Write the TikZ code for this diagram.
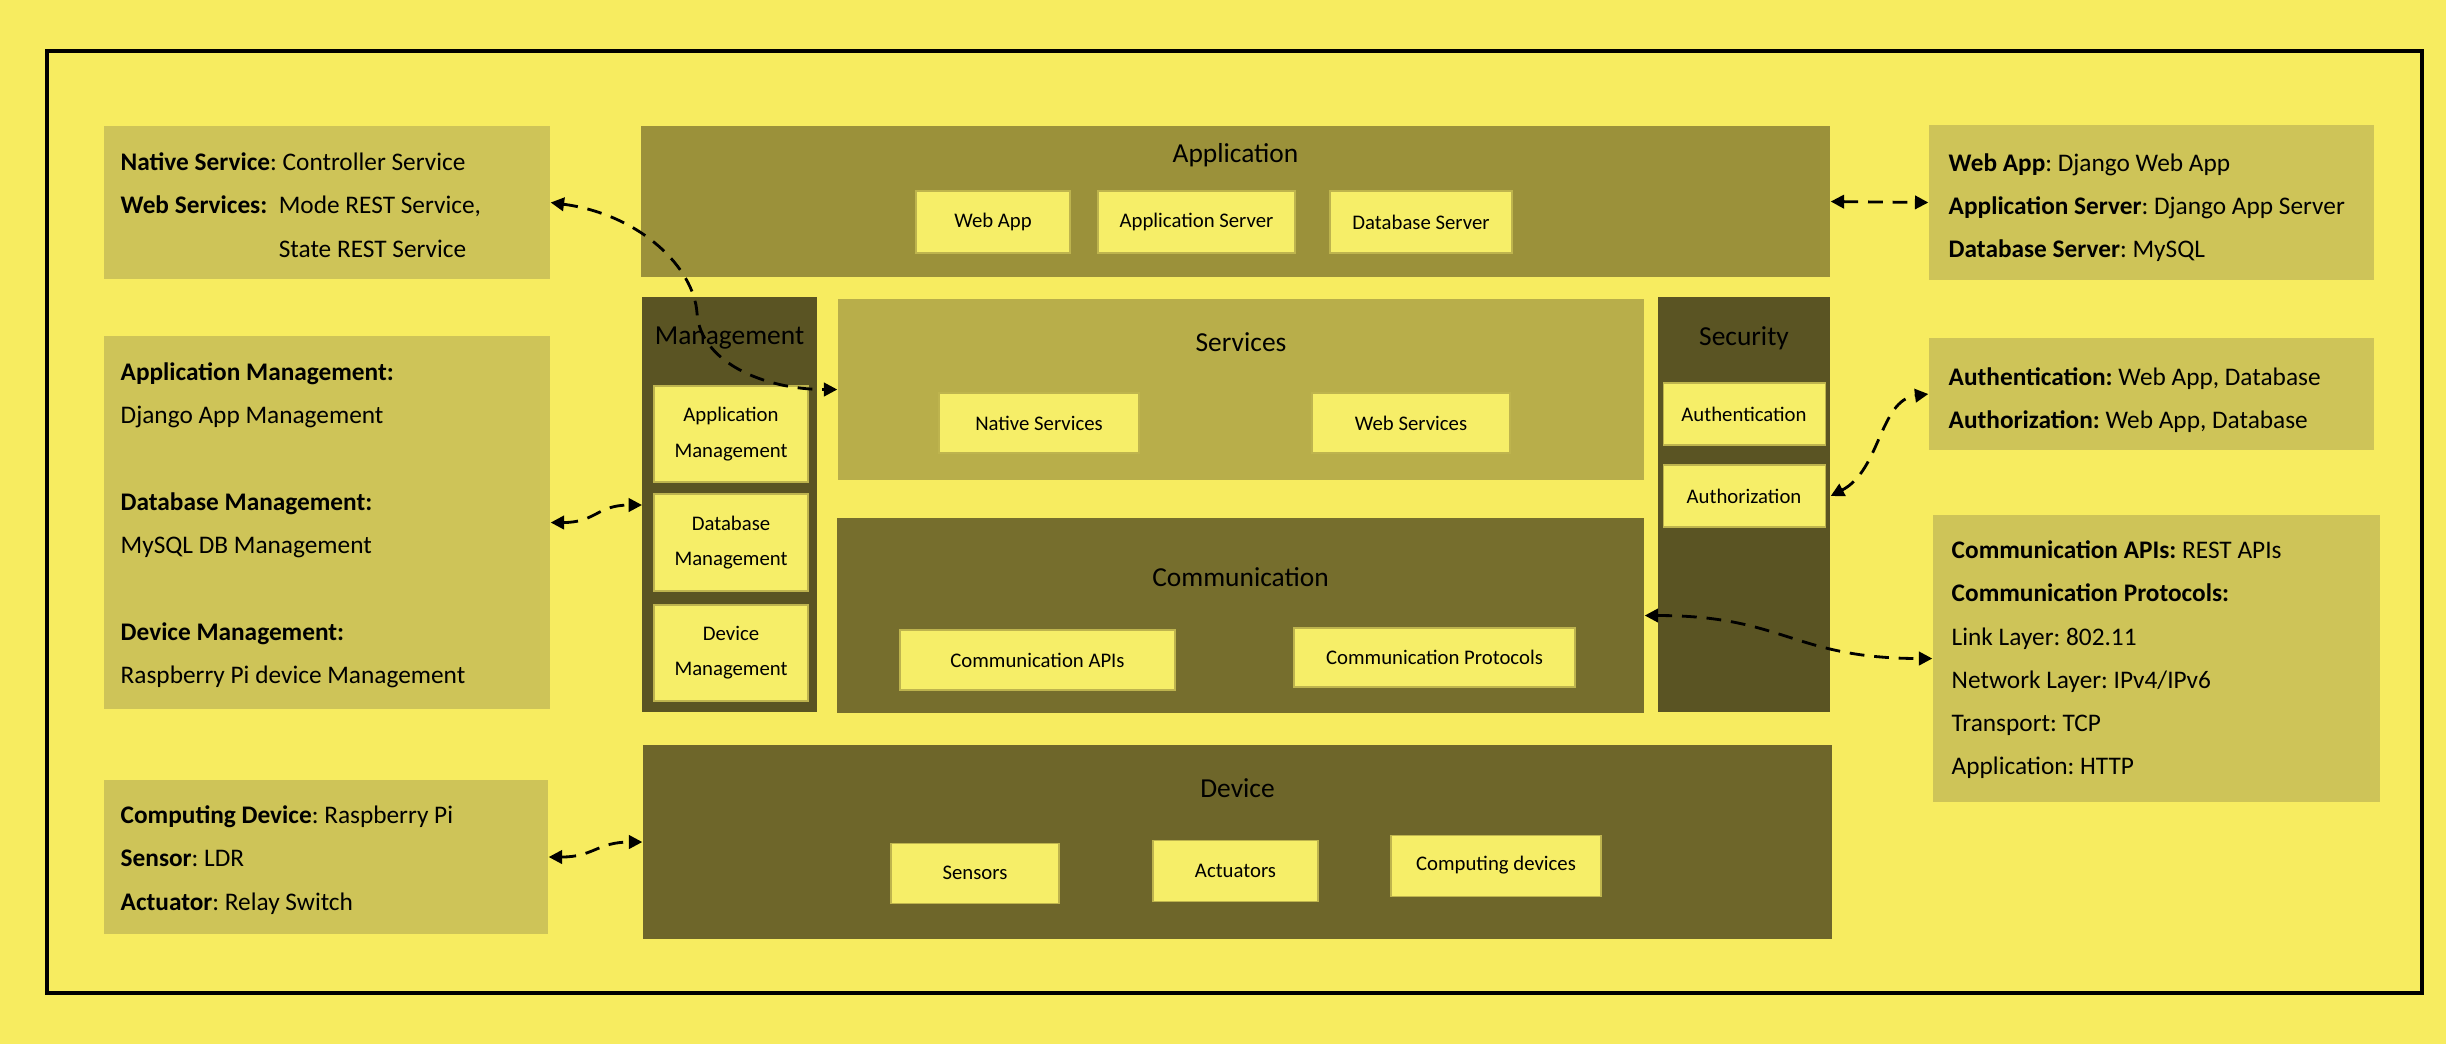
\documentclass[tikz,border=0pt]{standalone}
\usepackage{fontspec}
\setmainfont{Carlito}
\usetikzlibrary{arrows.meta}
\frenchspacing

\definecolor{pagebg}{RGB}{247,236,96}
\definecolor{infofill}{RGB}{206,196,88}
\definecolor{appfill}{RGB}{155,145,58}
\definecolor{servfill}{RGB}{184,174,74}
\definecolor{sidefill}{RGB}{90,84,35}
\definecolor{commfill}{RGB}{118,110,45}
\definecolor{devfill}{RGB}{110,102,42}
\definecolor{cellfill}{RGB}{246,238,104}
\definecolor{celledge}{RGB}{190,180,78}

\tikzset{
  box/.style args={#1/#2}{rectangle, draw=none, inner sep=0pt,
    minimum width=#1*0.01cm, minimum height=#2*0.01cm},
  infobox/.style={box=#1, fill=infofill},
  cell/.style={box=#1, fill=cellfill, draw=celledge, line width=0.3pt,
    font=\fontsize{5.9}{10}\selectfont, align=center},
  title/.style={inner sep=0pt, font=\fontsize{7.8}{9}\selectfont},
  info/.style={anchor=north west, inner sep=0pt, align=left,
    font=\fontsize{7.2}{12.3}\selectfont},
  conn/.style={draw=black, line width=0.8pt, dash pattern=on 4.2pt off 2.8pt,
    {Triangle[length=3.8pt,width=3.8pt]}-{Triangle[length=3.8pt,width=3.8pt]}},
}

\begin{document}
\begin{tikzpicture}[x=0.01cm,y=-0.01cm]
% page and frame
\fill[pagebg] (0,0) rectangle (2446,1044);
\useasboundingbox (0,0) rectangle (2446,1044);
\draw[line width=1.1pt] (47,51) rectangle (2422,993);

% ---- left description boxes ----
\node[infobox=446/153] (ns) at (327,202.5) {};
\node[info] (nstext) at (120,152)
  {\textbf{Native Service}: Controller Service\\
   \textbf{Web Services:}\ \ Mode REST Service,\\
   \phantom{\textbf{Web Services:}\ \ }State REST Service};

\node[infobox=446/373] (am) at (327,522.5) {};
\node[info] (amtext) at (120,362)
  {\textbf{Application Management:}\\
   Django App Management\\[12.3pt]
   \textbf{Database Management:}\\
   MySQL DB Management\\[12.3pt]
   \textbf{Device Management:}\\
   Raspberry Pi device Management};

\node[infobox=444/154] (cd) at (326,857) {};
\node[info] (cdtext) at (120,805)
  {\textbf{Computing Device}: Raspberry Pi\\
   \textbf{Sensor}: LDR\\
   \textbf{Actuator}: Relay Switch};

% ---- right description boxes ----
\node[infobox=445/155] (wa) at (2151.5,202.5) {};
\node[info] (watext) at (1948,153)
  {\textbf{Web App}: Django Web App\\
   \textbf{Application Server}: Django App Server\\
   \textbf{Database Server}: MySQL};

\node[infobox=445/112] (au) at (2151.5,394) {};
\node[info] (autext) at (1948,367)
  {\textbf{Authentication:} Web App, Database\\
   \textbf{Authorization:} Web App, Database};

\node[infobox=447/287] (cm) at (2156.5,658.5) {};
\node[info] (cmtext) at (1951,540)
  {\textbf{Communication APIs:} REST APIs\\
   \textbf{Communication Protocols:}\\
   Link Layer: 802.11\\
   Network Layer: IPv4/IPv6\\
   Transport: TCP\\
   Application: HTTP};

% ---- layered stack ----
% Application
\node[box=1189/151, fill=appfill] (app) at (1235.5,201.5) {};
\node[title] (apptitle) at (1235.5,155) {Application};
\node[cell=154/62] (webapp) at (993,222) {Web App};
\node[cell=197/62] (appserver) at (1196.5,222) {Application Server};
\node[cell=182/62] (dbserver) at (1421,222) {Database Server};

% Management column
\node[box=175/415, fill=sidefill] (mgmt) at (729.5,504.5) {};
\node[title] (mgmttitle) at (729.5,338) {Management};
\node[cell=154/96] (appmgmt) at (731,434) {Application\\Management};
\node[cell=154/97] (dbmgmt) at (731,542.5) {Database\\Management};
\node[cell=154/96] (devmgmt) at (731,653) {Device\\Management};

% Services
\node[box=806/181, fill=servfill] (serv) at (1241,389.5) {};
\node[title] (servtitle) at (1241,342) {Services};
\node[cell=200/60] (native) at (1039,423) {Native Services};
\node[cell=198/60] (websvc) at (1411,423) {Web Services};

% Security column
\node[box=172/415, fill=sidefill] (sec) at (1744,504.5) {};
\node[title] (sectitle) at (1744,338) {Security};
\node[cell=162/62] (authn) at (1744,414) {Authentication};
\node[cell=162/62] (authz) at (1744,496) {Authorization};

% Communication
\node[box=807/195, fill=commfill] (comm) at (1240.5,615.5) {};
\node[title] (commtitle) at (1240.5,577) {Communication};
\node[cell=275/60] (commapi) at (1037.5,660) {Communication APIs};
\node[cell=281/59] (commproto) at (1434.5,657.5) {Communication Protocols};

% Device
\node[box=1189/194, fill=devfill] (dev) at (1237.5,842) {};
\node[title] (devtitle) at (1237.5,788) {Device};
\node[cell=168/60] (sensors) at (975,873) {Sensors};
\node[cell=165/61] (actuators) at (1235.5,870.5) {Actuators};
\node[cell=210/61] (compdev) at (1496,865.5) {Computing devices};

% ---- connectors ----
\coordinate (svcbend) at (697,313);
\draw[conn] (ns.east) .. controls +(90,12) and +(-3,-45) .. (svcbend)
            .. controls +(3,48) and +(-75,0) .. (serv.west);
\draw[conn] (app.east) -- (wa.west);
\draw[conn] (sec.east |- authz.east) .. controls +(50,-26) and +(-49,6) .. (au.west);
\draw[conn] (comm.east) .. controls +(140,0) and +(-140,0) .. (cm.west);
\coordinate (dbin) at (642,505);
\draw[conn] (am.east) .. controls +(45,0) and +(-45,0) .. (dbin);
\draw[conn] (cd.east) .. controls +(45,0) and +(-45,0) .. (dev.west);
\end{tikzpicture}
\end{document}
